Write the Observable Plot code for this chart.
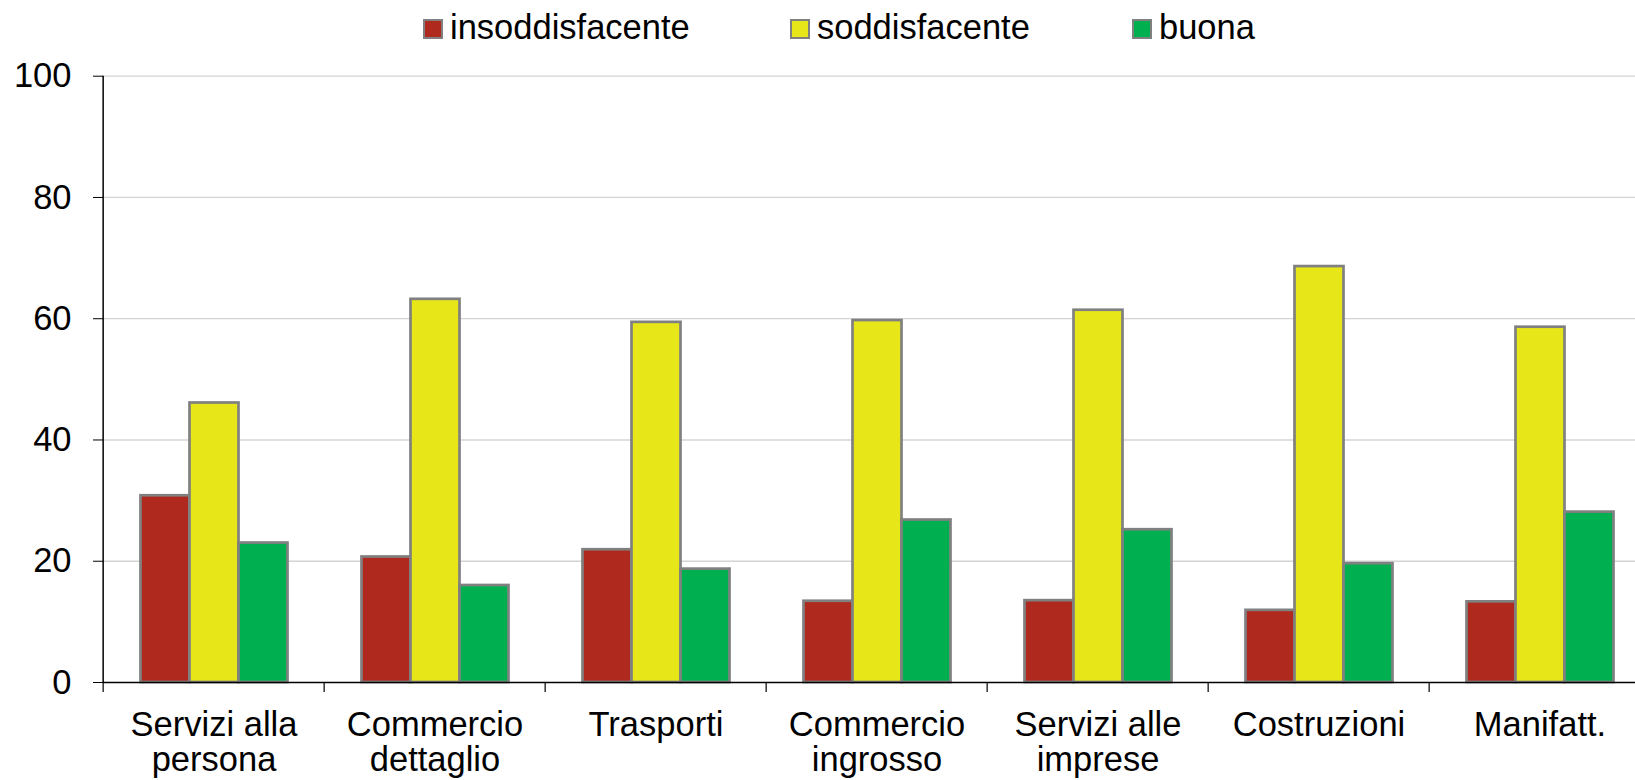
<!DOCTYPE html>
<html>
<head>
<meta charset="utf-8">
<script src="https://cdn.jsdelivr.net/npm/d3@7"></script>
<script src="https://cdn.jsdelivr.net/npm/@observablehq/plot@0.6"></script>
<style>
  html, body { margin: 0; padding: 0; background: #fff; overflow: hidden; }
  body { width: 1635px; height: 780px; font-family: "Liberation Sans", Arial, sans-serif; }
  #legend { position: relative; height: 50px; }
  .item { position: absolute; top: 2px; height: 50px; display: flex; align-items: center; font-size: 34.5px; line-height: 38px; color: #000; white-space: nowrap; }
  .sw { width: 20px; height: 20px; box-sizing: border-box; border: 2px solid #808080; margin-right: 7px; position: relative; top: 1.5px; }
</style>
</head>
<body>
<div id="legend"></div>
<div id="chart"></div>
<script>
// ---- data ----
const categories = ["Servizi alla persona", "Commercio dettaglio", "Trasporti", "Commercio ingrosso", "Servizi alle imprese", "Costruzioni", "Manifatt."];
const categoryLabels = ["Servizi alla\npersona", "Commercio\ndettaglio", "Trasporti", "Commercio\ningrosso", "Servizi alle\nimprese", "Costruzioni", "Manifatt."];
const series = ["insoddisfacente", "soddisfacente", "buona"];
const insoddisfacente = [30.8, 20.7, 21.9, 13.4, 13.5, 11.9, 13.3];
const soddisfacente   = [46.1, 63.2, 59.4, 59.7, 61.4, 68.6, 58.6];
const buona           = [23.0, 16.0, 18.7, 26.8, 25.2, 19.6, 28.1];
const yTicks = [0, 20, 40, 60, 80, 100];
const colors = ["#B0291F", "#E6E619", "#00B050"];

// ---- table ----
const valuesBySeries = {insoddisfacente, soddisfacente, buona};
const data = categories.flatMap((c) => series.map((s) => ({cat: c, serie: s, value: valuesBySeries[s][categories.indexOf(c)]})));
const labelOf = Object.fromEntries(categories.map((c, i) => [c, categoryLabels[i]]));

// ---- legend ----
const legendLefts = [423, 790, 1132];
const legend = document.getElementById("legend");
series.forEach((s, i) => {
  const it = document.createElement("div");
  it.className = "item";
  it.style.left = legendLefts[i] + "px";
  const sw = document.createElement("div");
  sw.className = "sw";
  sw.style.background = colors[i];
  const tx = document.createElement("span");
  tx.textContent = s;
  it.appendChild(sw); it.appendChild(tx);
  legend.appendChild(it);
});

// ---- chart ----
const W = 1635, H = 730;
const plotLeft = 100.5, plotRight = 1652.4;
const halfBand = (plotRight - plotLeft) / categories.length / 2;
const FS = 34.5;

const chart = Plot.plot({
  width: W,
  height: H,
  marginTop: 25.7,
  marginBottom: 98,
  marginLeft: plotLeft,
  marginRight: W - plotRight,
  style: {fontFamily: '"Liberation Sans", Arial, sans-serif', fontSize: FS + "px", color: "#000", background: "#fff", overflow: "hidden"},
  fx: {domain: categories, padding: 0, axis: null, label: null},
  x: {domain: series, paddingInner: 0, paddingOuter: 0.741, axis: null},
  y: {domain: [0, 100], axis: null},
  color: {domain: series, range: colors},
  marks: [
    Plot.ruleY(yTicks.filter((v) => v > 0), {stroke: "#d4d4d4", strokeWidth: 1.3}),
    Plot.barY(data, {fx: "cat", x: "serie", y: "value", fill: "serie", stroke: "#808080", strokeWidth: 2.7}),
    Plot.ruleY([0], {stroke: "#000", strokeWidth: 1.5}),
    Plot.ruleX(categories, {fx: (d) => d, x: null, y1: 0, y2: 0, insetBottom: -10, dx: -halfBand, stroke: "#000", strokeWidth: 1.2}),
    Plot.ruleX([categories[0]], {fx: (d) => d, x: null, y1: 0, y2: 100, dx: -halfBand, stroke: "#000", strokeWidth: 1.5}),
    Plot.axisY({ticks: yTicks, tickSize: 10, tickPadding: 22, fontSize: FS, color: "#000", label: null}),
    Plot.text(categories, {fx: (d) => d, text: (d) => labelOf[d], frameAnchor: "bottom", lineAnchor: "top", dy: 28, fontSize: FS, lineHeight: 1.03, fill: "#000"})
  ]
});
document.getElementById("chart").appendChild(chart);
</script>
</body>
</html>
